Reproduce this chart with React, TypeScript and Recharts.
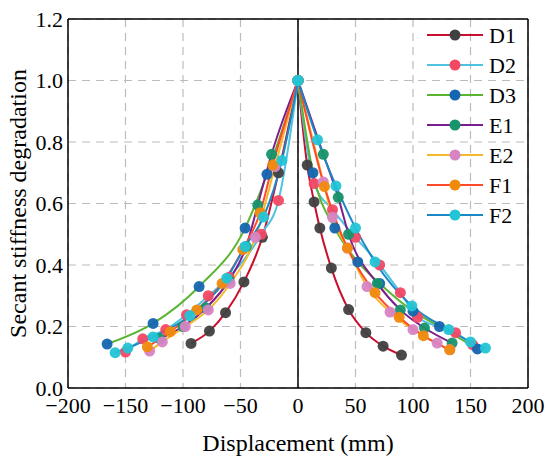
import React from 'react';
import { LineChart, Line, XAxis, YAxis, CartesianGrid, ReferenceLine, Label } from 'recharts';

const FONT = 'Liberation Serif, DejaVu Serif, serif';

const X_TICKS = [-200, -150, -100, -50, 0, 50, 100, 150, 200];
const Y_TICKS = [0, 0.2, 0.4, 0.6, 0.8, 1.0, 1.2];

// displacement (mm) / secant stiffness ratio
const D1_X = [-93, -77, -63, -47, -31, -17, 0, 8, 14, 19, 29, 44, 59, 74, 90];
const D1_Y = [0.145, 0.185, 0.245, 0.345, 0.49, 0.7, 1.0, 0.725, 0.605, 0.52, 0.39, 0.255, 0.18, 0.136, 0.107];

const D2_X = [-150, -135, -115, -97, -78, -60, -32, -17, 0, 14, 30, 50, 71, 89, 104, 137, 152];
const D2_Y = [0.117, 0.16, 0.19, 0.238, 0.3, 0.36, 0.5, 0.61, 1.0, 0.665, 0.58, 0.49, 0.4, 0.31, 0.23, 0.18, 0.14];

const D3_X = [-166, -126, -86, -46, -27, 0, 13, 32, 52, 71, 100, 123, 156];
const D3_Y = [0.143, 0.21, 0.33, 0.52, 0.695, 1.0, 0.7, 0.52, 0.41, 0.34, 0.25, 0.2, 0.127];

const E1_X = [-120, -100, -80, -60, -45, -35, -23, 0, 22, 35, 44, 69, 89, 110, 134];
const E1_Y = [0.16, 0.2, 0.26, 0.35, 0.46, 0.595, 0.76, 1.0, 0.76, 0.62, 0.5, 0.34, 0.254, 0.195, 0.146];

const E2_X = [-129, -118, -98, -78, -59, -37, -20, 0, 22, 30, 43, 60, 80, 100, 121, 132];
const E2_Y = [0.12, 0.15, 0.2, 0.254, 0.34, 0.49, 0.72, 1.0, 0.67, 0.555, 0.455, 0.33, 0.247, 0.19, 0.146, 0.125];

const F1_X = [-131, -111, -88, -66, -48, -33, -22, 0, 23, 43, 67, 88, 109, 132];
const F1_Y = [0.134, 0.183, 0.254, 0.34, 0.45, 0.57, 0.725, 1.0, 0.655, 0.455, 0.31, 0.23, 0.17, 0.124];

const F2_X = [-159, -148, -126, -94, -62, -46, -30, -14, 0, 17, 33, 50, 67, 99, 131, 150, 163];
const F2_Y = [0.115, 0.13, 0.166, 0.235, 0.357, 0.46, 0.556, 0.74, 1.0, 0.807, 0.657, 0.52, 0.41, 0.267, 0.19, 0.15, 0.13];

const NAMES = ['D1', 'D2', 'D3', 'E1', 'E2', 'F1', 'F2'];
const XS = [D1_X, D2_X, D3_X, E1_X, E2_X, F1_X, F2_X];
const YS = [D1_Y, D2_Y, D3_Y, E1_Y, E2_Y, F1_Y, F2_Y];

const LINE_COLORS = ['#c8102e', '#4ec3e0', '#5cb532', '#7a1e8c', '#f5b82a', '#ff4a2a', '#1b87c5'];
const MARKER_COLORS = ['#404040', '#f24864', '#1565b0', '#16946a', '#d784c4', '#f08a0c', '#22c4d6'];

const fmtX = (v: number) => String(v).replace('-', '\u2212');
const fmtY = (v: number) => v.toFixed(1);

const toPoints = (xs: number[], ys: number[]) => xs.map((x, i) => ({ x, y: ys[i] }));

const textStyle = { fontFamily: FONT };

export default function App() {
  const lines: React.ReactNode[] = [];
  NAMES.forEach((name, i) => {
    const pts = toPoints(XS[i], YS[i]);
    // split at the peak so each branch is smoothed on its own and the tip stays sharp
    const neg = pts.filter((p) => p.x <= 0);
    const pos = pts.filter((p) => p.x >= 0);
    [neg, pos].forEach((data, k) => (
      lines.push(
        <Line
          key={`${name}-${k}`}
          data={data}
          dataKey="y"
          type="monotone"
          stroke={LINE_COLORS[i]}
          strokeWidth={2}
          dot={{ r: 5.5, fill: MARKER_COLORS[i], stroke: 'none', fillOpacity: 0.95 }}
          activeDot={false}
          isAnimationActive={false}
        />
      )
    ));
  });

  return (
    <div style={{ position: 'absolute', left: 0, top: 0, width: 550, height: 461, background: '#fff', fontFamily: FONT }}>
      <LineChart width={550} height={461} margin={{ top: 19, right: 22, left: 0, bottom: 0 }} style={textStyle}>
        <CartesianGrid stroke="#bcbcbc" strokeDasharray="8 6" strokeWidth={1.2} />
        <XAxis
          type="number"
          dataKey="x"
          domain={[-200, 200]}
          ticks={X_TICKS}
          interval={0}
          allowDataOverflow
          height={73}
          tickLine={false}
          tickSize={6}
          tickMargin={3}
          axisLine={{ stroke: '#000', strokeWidth: 1.5 }}
          tick={{ fill: '#000', fontSize: 22, style: textStyle }}
          tickFormatter={fmtX}
        >
          <Label
            content={(props: any) => {
              const vb = props.viewBox;
              return (
                <text x={vb.x + vb.width / 2} y={vb.y + vb.height - 10} textAnchor="middle" fontSize={24} style={textStyle} fill="#000">
                  Displacement (mm)
                </text>
              );
            }}
          />
        </XAxis>
        <YAxis
          type="number"
          domain={[0, 1.2]}
          ticks={Y_TICKS}
          interval={0}
          allowDataOverflow
          width={68}
          tickLine={false}
          tickSize={3}
          tickMargin={2}
          axisLine={{ stroke: '#000', strokeWidth: 1.5 }}
          tick={{ fill: '#000', fontSize: 22, style: textStyle }}
          tickFormatter={fmtY}
        >
          <Label
            content={(props: any) => {
              const vb = props.viewBox;
              const cx = 26;
              const cy = vb.y + vb.height / 2;
              return (
                <text x={cx} y={cy} transform={`rotate(-90, ${cx}, ${cy})`} textAnchor="middle" fontSize={24} style={textStyle} fill="#000">
                  Secant stiffness degradation
                </text>
              );
            }}
          />
        </YAxis>
        <ReferenceLine y={1.2} stroke="#000" strokeWidth={1.5} />
        <ReferenceLine x={200} stroke="#000" strokeWidth={1.5} />
        <ReferenceLine x={0} stroke="#000" strokeWidth={1.5} />
        {lines}
      </LineChart>
      <svg width={550} height={461} style={{ position: 'absolute', left: 0, top: 0, pointerEvents: 'none' }}>
        {NAMES.map((name, i) => {
          const y = 35 + i * 30;
          return (
            <g key={name}>
              <line x1={427} x2={483} y1={y} y2={y} stroke={LINE_COLORS[i]} strokeWidth={2} />
              <circle cx={455} cy={y} r={5.5} fill={MARKER_COLORS[i]} />
              <text x={489} y={y + 7.5} fontSize={22} style={textStyle} fill="#000">{name}</text>
            </g>
          );
        })}
      </svg>
    </div>
  );
}
